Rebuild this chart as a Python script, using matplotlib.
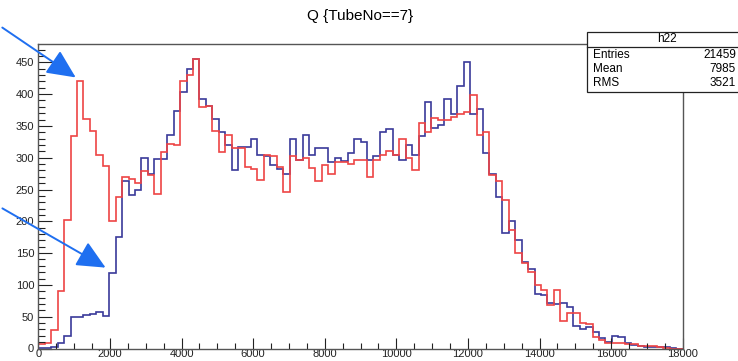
#!/usr/bin/env python3

import numpy as np
import matplotlib
matplotlib.use("Agg")
import matplotlib.pyplot as plt
from matplotlib.patches import Rectangle

plt.rcParams["font.family"] = ["Liberation Sans", "DejaVu Sans"]

# 100 bins of Q from 0 to 18000
x_lo, x_hi, n_bins = 0, 18000, 100

blue_counts = [
    1, 1, 3, 8, 19, 49, 50, 52, 55, 57,
    51, 118, 176, 263, 242, 250, 299, 274, 298, 298,
    335, 373, 404, 440, 456, 393, 382, 361, 341, 320,
    281, 317, 317, 330, 304, 302, 288, 283, 274, 329,
    296, 336, 305, 315, 315, 293, 300, 295, 308, 330,
    325, 296, 302, 341, 345, 304, 296, 320, 304, 334,
    388, 347, 351, 393, 368, 412, 450, 369, 377, 307,
    274, 239, 182, 201, 170, 136, 125, 86, 84, 72,
    70, 71, 65, 35, 31, 34, 26, 16, 11, 20,
    18, 8, 5, 4, 3, 3, 2, 2, 1, 0,
]
red_counts = [
    7, 8, 29, 91, 202, 334, 420, 361, 342, 304,
    287, 200, 238, 269, 266, 260, 279, 273, 243, 309,
    322, 320, 421, 430, 456, 380, 382, 342, 309, 336,
    316, 316, 286, 283, 265, 304, 302, 286, 246, 302,
    296, 299, 284, 264, 289, 275, 293, 293, 290, 296,
    296, 269, 296, 304, 310, 304, 329, 299, 281, 354,
    341, 362, 360, 359, 364, 369, 372, 399, 335, 340,
    273, 264, 234, 186, 150, 135, 120, 100, 92, 69,
    92, 44, 56, 56, 40, 38, 18, 13, 9, 9,
    8, 7, 7, 4, 4, 4, 3, 1, 0, 0,
]
stats_names = ["Entries", "Mean", "RMS"]
stats_values = ["21459", "7985", "3521"]

W, H = 738, 361
fig = plt.figure(figsize=(W / 100, H / 100), dpi=100)
ax = fig.add_axes([38.3 / W, 12.5 / H, 644.5 / W, 304.5 / H])

edges = np.linspace(x_lo, x_hi, n_bins + 1)
ax.stairs(blue_counts, edges, color="#3a3a9a", lw=1.2, baseline=None)
ax.stairs(red_counts, edges, color="#ee4444", lw=1.2, baseline=None)

ax.set_xlim(x_lo, x_hi)
ax.set_ylim(0, 1.05 * max(max(blue_counts), max(red_counts)))
ax.set_xticks(np.arange(0, 18001, 2000))
ax.set_xticks(np.arange(0, 18001, 500), minor=True)
ax.set_yticks(np.arange(0, 451, 50))
ax.set_yticks(np.arange(0, 471, 10), minor=True)
ax.tick_params(axis="both", which="both", direction="in", top=False, right=False,
               labelsize=8, colors="#222222", width=0.8)
ax.tick_params(axis="x", which="major", length=8, pad=0.5)
ax.tick_params(axis="x", which="minor", length=4)
ax.tick_params(axis="y", which="major", length=10, pad=3)
ax.tick_params(axis="y", which="minor", length=5)
for s in ax.spines.values():
    s.set_color("#555555")
    s.set_linewidth(1.0)

fig.text(360 / W, 1 - 16 / H, "Q {TubeNo==7}", ha="center", va="center", fontsize=11)

# stats box, partly outside the canvas on the right
box = Rectangle((587, H - 92), 200, 60, transform=None, facecolor="white",
                edgecolor="#222222", lw=0.9, zorder=5)
fig.patches.append(box)
fig.add_artist(plt.Line2D([587, 787], [H - 46.5, H - 46.5], transform=None,
                          color="#222222", lw=0.9, zorder=6))
fig.text(667 / W, 1 - 39.5 / H, "h22", ha="center", va="center", fontsize=8.5, zorder=7)
for k, (name, val) in enumerate(zip(stats_names, stats_values)):
    yy = 1 - (54.5 + 14.3 * k) / H
    fig.text(593 / W, yy, name, ha="left", va="center", fontsize=8.5, zorder=7)
    fig.text(736 / W, yy, val, ha="right", va="center", fontsize=8.5, zorder=7)

# blue annotation arrows
arrow_style = dict(arrowstyle="-|>,head_length=1.6,head_width=0.75", color="#1f6ff0",
                   lw=1.4, mutation_scale=11)
ax.annotate("", xy=(78, H - 79), xytext=(0, H - 26), xycoords="figure pixels",
            textcoords="figure pixels", arrowprops=arrow_style, annotation_clip=False)
ax.annotate("", xy=(108, H - 269), xytext=(0, H - 207), xycoords="figure pixels",
            textcoords="figure pixels", arrowprops=arrow_style, annotation_clip=False)

fig.savefig("out.png", dpi=100)
